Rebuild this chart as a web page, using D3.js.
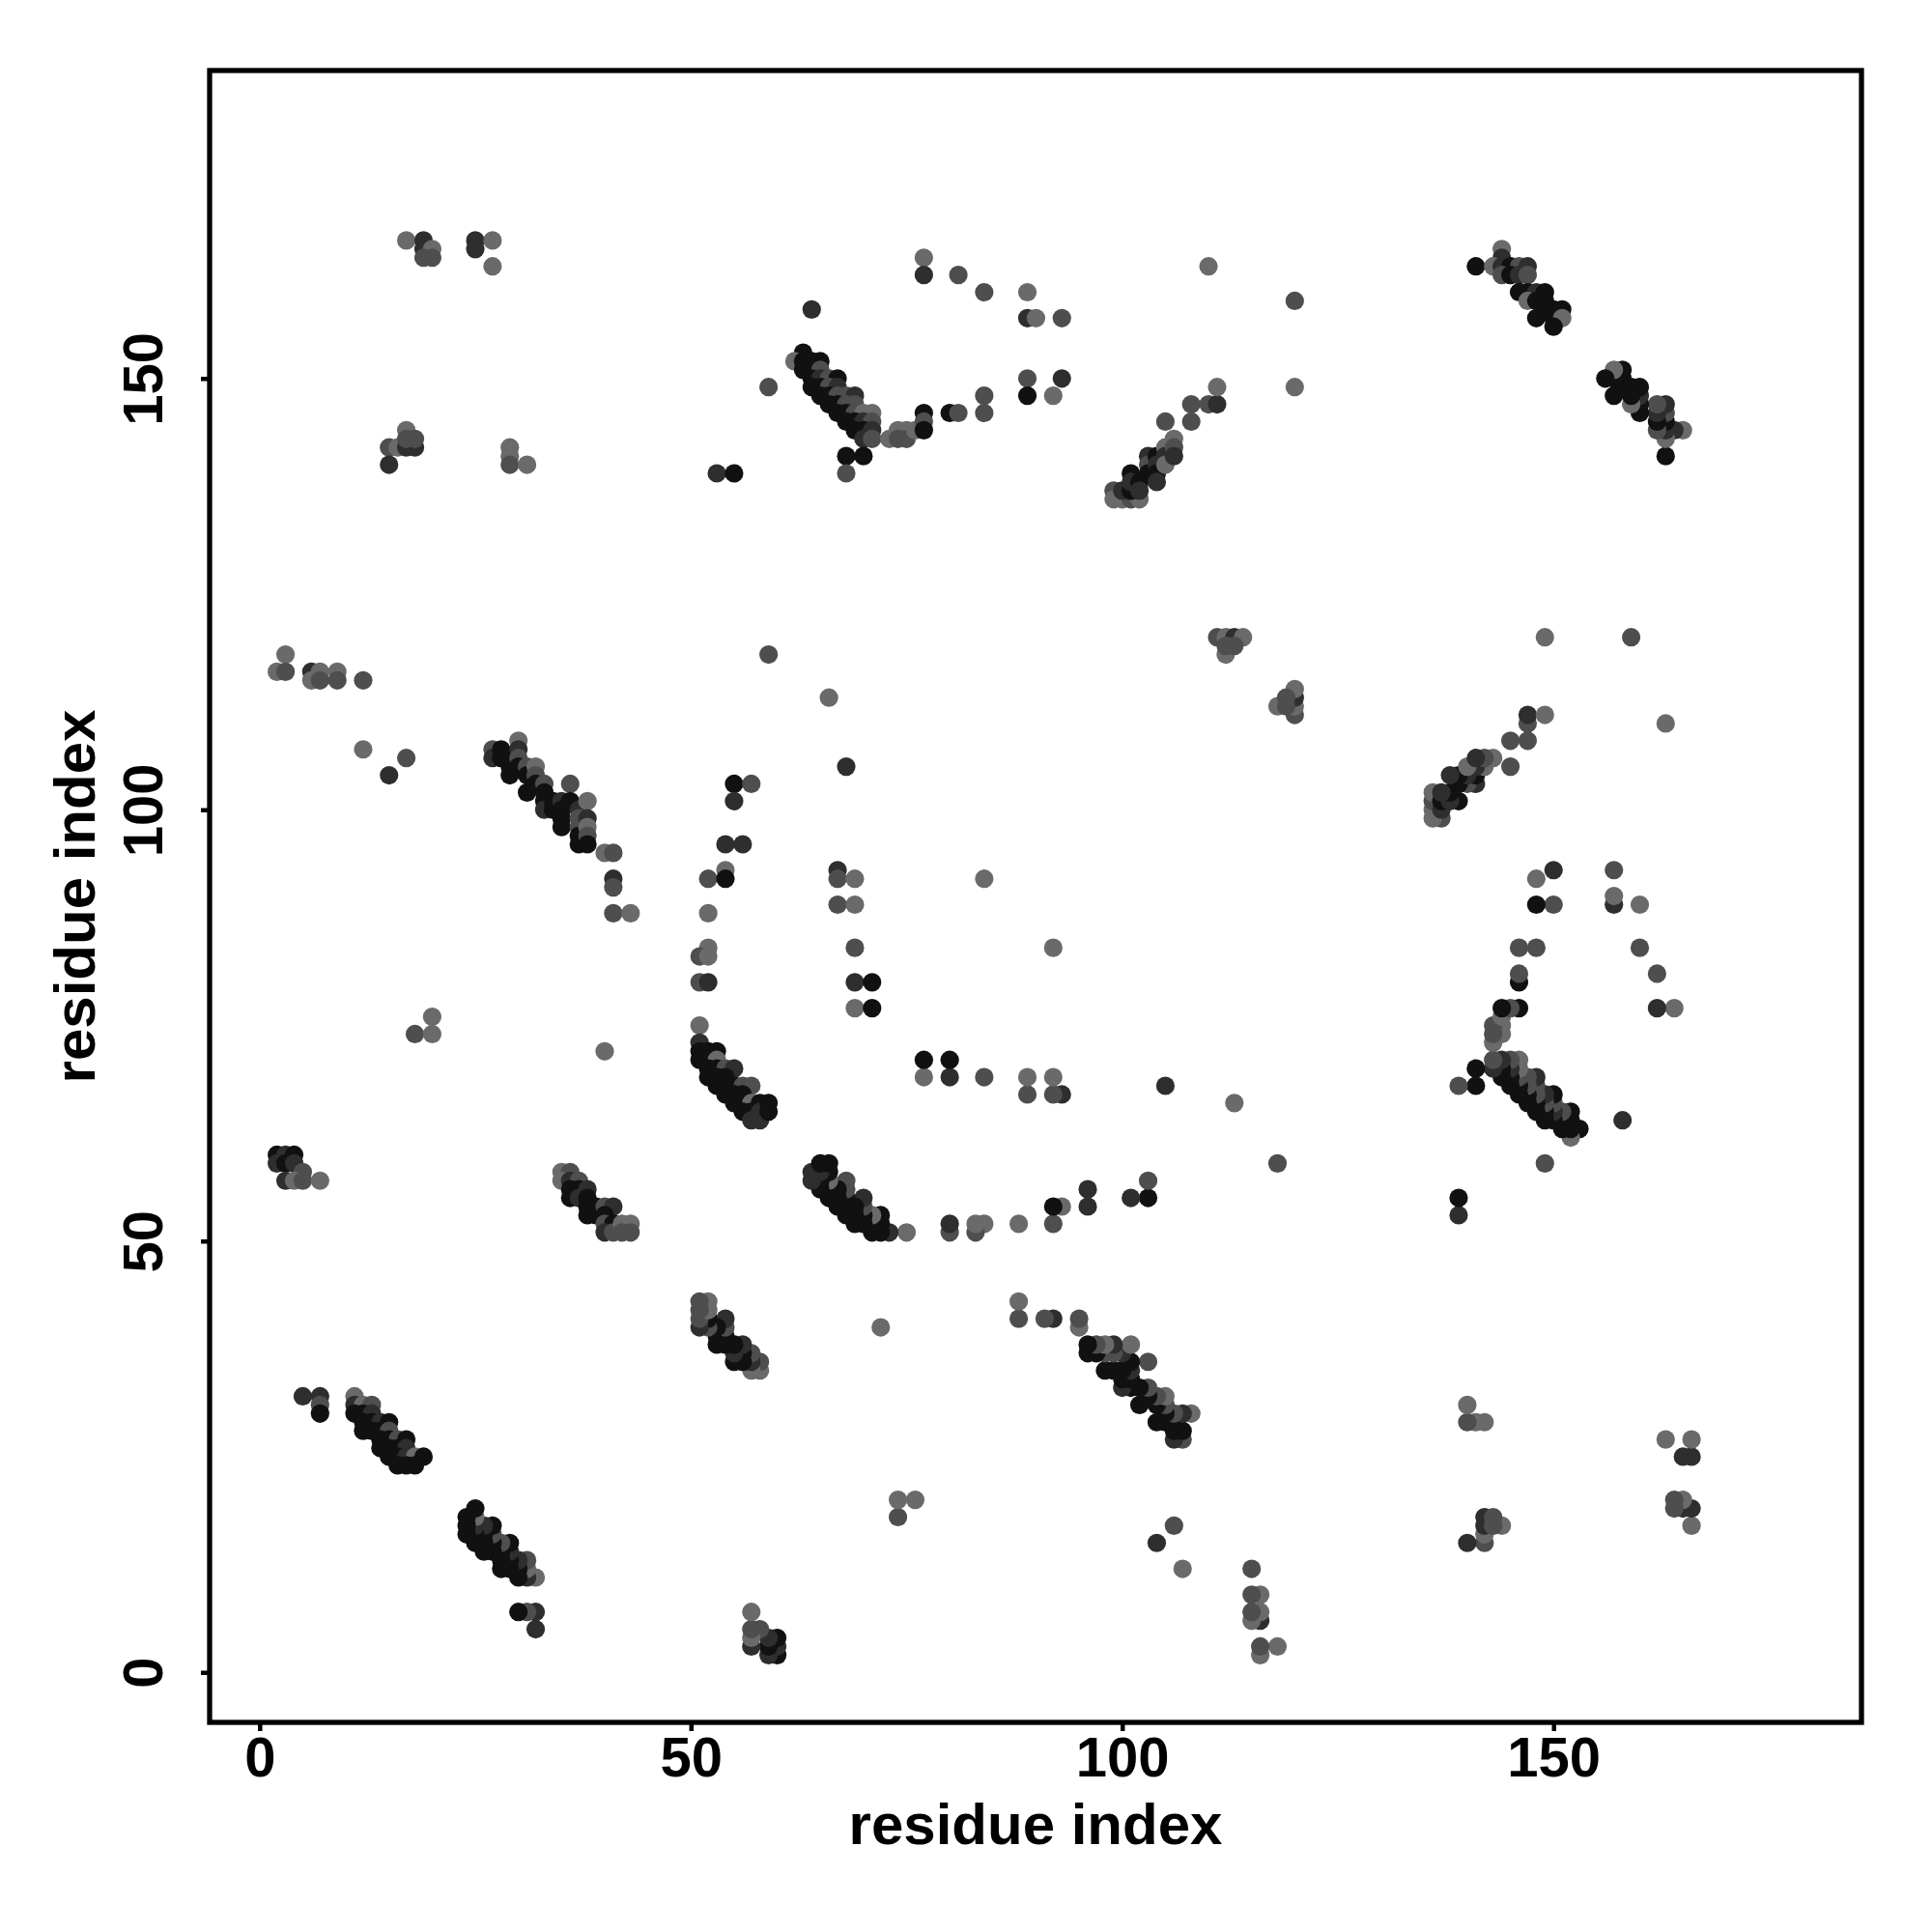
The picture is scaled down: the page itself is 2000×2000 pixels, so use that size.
<!DOCTYPE html>
<html>
<head>
<meta charset="utf-8">
<script src="https://cdn.jsdelivr.net/npm/d3@7/dist/d3.min.js"></script>
<style>
html,body{margin:0;padding:0;background:#ffffff;}
svg{display:block;}
</style>
</head>
<body>
<svg id="chart" width="2000" height="2000"></svg>
<script>
// Contact list (upper triangle, i < j) read from the map; each entry: [i, j, score]
// score: 4 = strongest (black) ... 1 = weakest (light grey). The map is symmetric.
const clusterTopLeft = [
  [17,166,1],[19,166,3],[19,165,3],[20,165,1],[19,164,2],[20,164,2],[25,166,3],[25,165,3],[27,166,1],[27,163,1],
  [17,144,1],[15,142,2],[16,142,1],[17,142,3],[18,142,3],[18,143,2],[17,143,2],[15,140,3],
  [29,142,1],[29,141,1],[29,140,2],[31,140,1],[53,139,3],[55,139,4]
];
const pointsTopMid = [
  [59,149,2],[77,164,1],[77,162,3],[81,162,2],[84,160,2],[89,160,1],[89,157,3],[90,157,1],[93,157,2],
  [64,158,3],[110,163,1],[120,159,2],[120,149,1]
];
const band62_153 = [
  [63,153,4],[62,152,1],[63,152,4],[64,152,4],[65,152,4],
  [63,151,4],[64,151,4],[65,151,2],
  [64,150,4],[65,150,3],[66,150,2],[67,150,4],
  [64,149,4],[65,149,4],[66,149,2],[67,149,3],
  [65,148,4],[66,148,4],[67,148,2],[68,148,2],[69,148,3],
  [66,147,4],[67,147,4],[68,147,2],[69,147,2],
  [67,146,4],[68,146,4],[69,146,2],[70,146,1],[71,146,1],
  [68,145,4],[69,145,4],[70,145,3],[71,145,2],
  [69,144,4],[70,144,4],[71,144,3],
  [70,143,3],[71,143,2],
  [68,141,4],[70,141,4],[68,139,2]
];
const pointsArc = [
  [73,143,1],[74,144,1],[75,144,1],[75,143,2],[74,143,2],[76,144,1],
  [77,146,4],[77,145,2],[77,144,4],[80,146,4],[81,146,2],[84,148,2],[84,146,2],
  [89,150,2],[89,148,4],[93,150,3],[92,148,1]
];
const band99_136 = [
  [99,137,2],[99,136,1],[100,136,1],[101,136,2],[102,136,1],[100,137,3],[101,137,4],
  [101,139,4],[101,138,3],[102,138,4],[102,137,3],
  [103,141,3],[103,140,2],[103,139,4],[104,141,4],[104,140,3],[104,139,4],[104,138,3],
  [105,142,1],[105,141,3],[105,140,1],[106,143,1],[106,142,2],[106,141,3],
  [105,145,2],[108,147,2],[108,145,2],[110,147,2],[111,147,3],[111,149,1]
];
const band141_165 = [
  [144,165,1],[144,164,3],[141,163,4],[143,163,1],[144,163,3],[145,163,4],[146,163,2],[147,163,3],
  [144,162,2],[145,162,4],[146,162,3],[147,162,2],
  [146,160,4],[147,160,4],[148,160,3],[149,160,4],
  [147,159,1],[148,159,4],[149,159,4],
  [149,158,4],[150,158,4],[151,158,4],
  [148,157,4],[150,157,4],[151,157,1],[150,156,4]
];
const pointsLeft115 = [
  [3,118,1],[2,116,1],[3,116,2],[6,116,3],[7,116,1],[6,115,1],[7,115,2],[9,116,1],[9,115,2],[12,115,2],
  [12,107,1],[17,106,2],[15,104,3]
];
const band27_108 = [
  [27,107,2],[27,106,3],[28,107,4],[28,106,4],[29,106,4],[29,105,4],[29,104,4],
  [30,108,1],[30,107,3],[30,106,2],[30,105,4],[31,105,2],[31,104,4],[31,102,4],
  [32,105,1],[32,104,2],[32,103,4],[33,103,2],[33,102,4],[33,101,4],[33,100,3],
  [34,101,4],[34,100,4],[35,101,3],[36,103,2],[36,101,4],[35,100,4],[35,99,4],[35,98,4],
  [37,100,3],[37,99,2],[37,98,2],[37,97,4],[37,96,4],
  [38,101,1],[38,99,3],[38,98,1],[38,97,2],[38,96,4],
  [40,95,1],[41,95,2],[41,92,3],[41,91,2],[41,88,2],[43,88,1]
];
const pointsArcLeft = [
  [55,103,4],[57,103,2],[55,101,3],[54,96,3],[56,96,3],[52,92,2],[54,93,1],[54,92,4],
  [52,88,1],[52,84,1],[51,83,2],[52,83,1],[51,80,2],[52,80,3],[51,75,1],
  [40,72,1],[18,74,2],[20,74,1],[20,76,1]
];
const band51_73 = [
  [51,73,3],[51,72,4],[52,72,4],[53,72,4],[51,71,4],[52,71,4],[53,71,1],
  [52,70,4],[53,70,4],[54,70,2],[55,70,3],[52,69,4],[53,69,4],[54,69,4],
  [53,68,4],[54,68,4],[55,68,4],[56,68,2],[57,68,2],[54,67,4],[55,67,4],[56,67,4],
  [55,66,4],[56,66,4],[57,66,1],[58,66,4],[56,65,4],[57,65,4],[58,65,3],[57,64,3],[58,64,3],
  [59,66,4],[59,65,4]
];
const cluster2_60 = [
  [2,60,4],[3,60,3],[4,60,4],[2,59,3],[3,59,4],[4,59,3],[5,58,2],[3,57,3],[4,57,1],[5,57,2],[7,57,1]
];
const pointsCenter = [
  [59,118,2],[66,113,1],[68,105,3],[67,93,3],[67,92,2],[69,92,1],[67,89,2],[69,89,1],
  [69,84,2],[69,80,3],[71,80,4],[69,77,1],[71,77,4],[84,92,1],
  [111,120,2],[112,120,1],[113,120,3],[114,120,1],[112,118,1],[112,119,2],[113,119,2]
];
const band35_58 = [
  [35,58,1],[36,58,2],[35,57,1],[36,57,3],[37,57,2],[36,56,4],[37,56,4],[38,56,3],
  [36,55,4],[37,55,3],[38,55,4],[38,54,4],[39,54,4],[38,53,4],[39,53,4],
  [40,54,2],[41,54,3],[40,53,4],[40,52,2],[41,52,4],[40,51,3],[41,51,2],
  [42,52,1],[43,52,1],[42,51,2],[43,51,2]
];
const band11_32 = [
  [5,32,3],[7,32,3],[7,31,2],[7,30,4],
  [11,32,1],[11,31,3],[12,31,1],[13,31,2],[11,30,4],[12,30,4],[13,30,3],
  [12,29,4],[13,29,4],[14,29,3],[15,29,4],[12,28,4],[13,28,4],[14,28,4],[15,28,2],
  [14,27,4],[15,27,4],[16,27,2],[17,27,4],[14,26,4],[15,26,4],[16,26,4],[17,26,3],
  [15,25,4],[16,25,4],[17,25,3],[18,25,1],[19,25,4],[16,24,4],[17,24,4],[18,24,4]
];

const xTicks = [0, 50, 100, 150];
const yTicks = [0, 50, 100, 150];
const xTitle = "residue index";
const yTitle = "residue index";
const scoreLevels = [1, 2, 3, 4];
const scoreColors = ["#6a6a6a", "#4e4e4e", "#2e2e2e", "#111111"];

const contacts = [].concat(clusterTopLeft, pointsTopMid, band62_153, pointsArc, band99_136,
  band141_165, pointsLeft115, band27_108, pointsArcLeft, band51_73, cluster2_60,
  pointsCenter, band35_58, band11_32);

// symmetric contact map: draw (i, j) and (j, i)
const pts = [];
contacts.forEach(c => {
  pts.push({x: c[0], y: c[1], s: c[2]});
  pts.push({x: c[1], y: c[0], s: c[2]});
});

const svg = d3.select("#chart");
const L = 217, R = 1927, T = 73, B = 1783;
const x = d3.scaleLinear().domain([-5.8, 185.7]).range([L, R]);
const y = d3.scaleLinear().domain([-5.8, 185.7]).range([B, T]);
const color = d3.scaleOrdinal().domain(scoreLevels).range(scoreColors);
const font = "'Liberation Sans', Arial, Helvetica, sans-serif";

svg.append("rect").attr("width", 2000).attr("height", 2000).attr("fill", "#fff");

svg.append("g").selectAll("circle").data(pts).join("circle")
  .attr("cx", d => x(d.x)).attr("cy", d => y(d.y))
  .attr("r", 9.6).attr("fill", d => color(d.s));

// frame
svg.append("rect").attr("x", L).attr("y", T).attr("width", R - L).attr("height", B - T)
  .attr("fill", "none").attr("stroke", "#000").attr("stroke-width", 5.3);

// x axis
const gx = svg.append("g").attr("transform", `translate(0,${B})`)
  .call(d3.axisBottom(x).tickValues(xTicks).tickSize(9).tickFormat(d3.format("d")));
gx.select(".domain").remove();
gx.selectAll(".tick line").attr("stroke", "#000").attr("stroke-width", 4.5);
gx.selectAll(".tick text").attr("y", 56).attr("dy", 0)
  .attr("font-family", font).attr("font-weight", "bold").attr("font-size", 58).attr("fill", "#000");

// y axis
const gy = svg.append("g").attr("transform", `translate(${L},0)`)
  .call(d3.axisLeft(y).tickValues(yTicks).tickSize(9).tickFormat(d3.format("d")));
gy.select(".domain").remove();
gy.selectAll(".tick line").attr("stroke", "#000").attr("stroke-width", 4.5);
gy.selectAll(".tick text").attr("x", null).attr("dy", 0)
  .attr("transform", "translate(-49,0) rotate(-90)")
  .attr("text-anchor", "middle")
  .attr("font-family", font).attr("font-weight", "bold").attr("font-size", 58).attr("fill", "#000");

// titles
svg.append("text").attr("x", (L + R) / 2).attr("y", 1909).attr("text-anchor", "middle")
  .attr("font-family", font).attr("font-weight", "bold").attr("font-size", 60).text(xTitle);
svg.append("text").attr("transform", `translate(98,${(T + B) / 2}) rotate(-90)`).attr("text-anchor", "middle")
  .attr("font-family", font).attr("font-weight", "bold").attr("font-size", 60).text(yTitle);
</script>
</body>
</html>
